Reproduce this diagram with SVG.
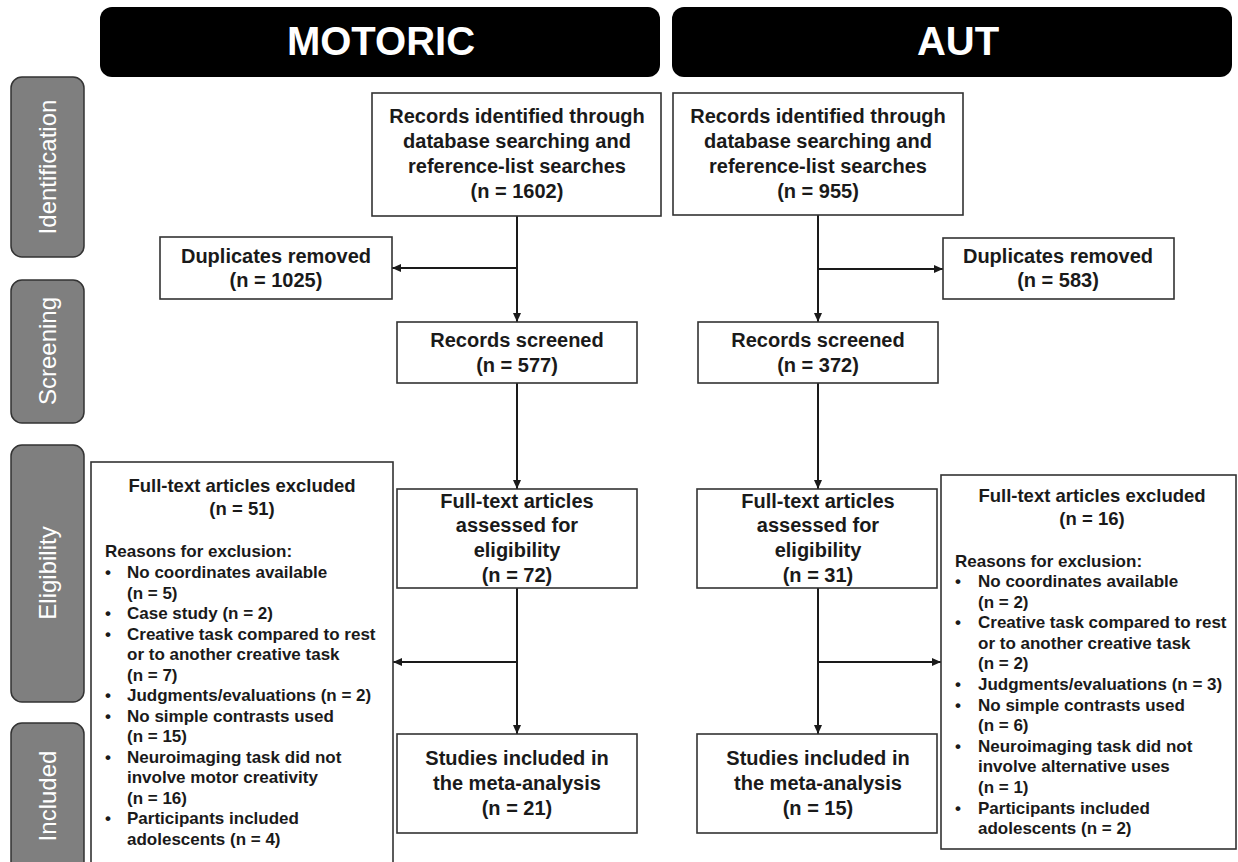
<svg xmlns="http://www.w3.org/2000/svg" width="1238" height="862" viewBox="0 0 1238 862">
<style>
  text { font-family: "Liberation Sans", Arial, Helvetica, sans-serif; }
  .hdr { fill: #000; }
  .hdrt { fill: #fff; font-size: 40px; font-weight: bold; text-anchor: middle; }
  .tab { fill: #7f7f7f; stroke: #333; stroke-width: 1.5; }
  .tabt { fill: #fff; font-size: 24px; text-anchor: middle; }
  .box { fill: #fff; stroke: #333; stroke-width: 1.6; }
  .bt { fill: #1a1a1a; font-size: 20px; font-weight: bold; text-anchor: middle; }
  .et { fill: #1a1a1a; font-size: 18.5px; font-weight: bold; text-anchor: middle; }
  .lt { fill: #1a1a1a; font-size: 17px; font-weight: bold; }
  .conn { stroke: #1a1a1a; stroke-width: 2; fill: none; marker-end: url(#arr); }
</style>
<defs>
  <marker id="arr" markerWidth="9" markerHeight="8" refX="9" refY="4" orient="auto" markerUnits="userSpaceOnUse">
    <path d="M0,0 L9,4 L0,8 Z" fill="#1a1a1a"/>
  </marker>
</defs>
<rect width="1238" height="862" fill="#fff"/>

<g id="header-motoric">
  <rect class="hdr" x="100" y="7" width="560" height="70" rx="12"/>
  <text class="hdrt" x="381" y="55">MOTORIC</text>
</g>
<g id="header-aut">
  <rect class="hdr" x="672" y="7" width="560" height="70" rx="12"/>
  <text class="hdrt" x="958" y="55">AUT</text>
</g>

<g id="tab-identification">
  <rect class="tab" x="11" y="77" width="73" height="180" rx="11"/>
  <text class="tabt" transform="translate(56,167) rotate(-90)">Identification</text>
</g>
<g id="tab-screening">
  <rect class="tab" x="11" y="280" width="73" height="143" rx="11"/>
  <text class="tabt" transform="translate(56,351) rotate(-90)">Screening</text>
</g>
<g id="tab-eligibility">
  <rect class="tab" x="11" y="445" width="73" height="257" rx="11"/>
  <text class="tabt" transform="translate(56,573) rotate(-90)">Eligibility</text>
</g>
<g id="tab-included">
  <rect class="tab" x="11" y="723" width="73" height="150" rx="11"/>
  <text class="tabt" transform="translate(56,796) rotate(-90)">Included</text>
</g>

<g id="connectors">
  <line class="conn" x1="517" y1="216" x2="517" y2="322"/>
  <line class="conn" x1="517" y1="268" x2="392" y2="268"/>
  <line class="conn" x1="517" y1="383" x2="517" y2="489"/>
  <line class="conn" x1="517" y1="662" x2="393" y2="662"/>
  <line class="conn" x1="517" y1="588" x2="517" y2="734"/>
  <line class="conn" x1="818" y1="215" x2="818" y2="322"/>
  <line class="conn" x1="818" y1="269" x2="943" y2="269"/>
  <line class="conn" x1="818" y1="383" x2="818" y2="489"/>
  <line class="conn" x1="818" y1="662" x2="941" y2="662"/>
  <line class="conn" x1="818" y1="588" x2="818" y2="734"/>
</g>

<g id="m-identified">
  <rect class="box" x="372" y="93" width="289" height="123"/>
  <text class="bt" x="517" y="123">Records identified through</text>
  <text class="bt" x="517" y="148">database searching and</text>
  <text class="bt" x="517" y="173">reference-list searches</text>
  <text class="bt" x="517" y="198">(n = 1602)</text>
</g>
<g id="m-duplicates">
  <rect class="box" x="160" y="237" width="232" height="62"/>
  <text class="bt" x="276" y="263">Duplicates removed</text>
  <text class="bt" x="276" y="287">(n = 1025)</text>
</g>
<g id="m-screened">
  <rect class="box" x="397" y="322" width="240" height="61"/>
  <text class="bt" x="517" y="347">Records screened</text>
  <text class="bt" x="517" y="372">(n = 577)</text>
</g>
<g id="m-assessed">
  <rect class="box" x="397" y="489" width="240" height="99"/>
  <text class="bt" x="517" y="508">Full-text articles</text>
  <text class="bt" x="517" y="532">assessed for</text>
  <text class="bt" x="517" y="557">eligibility</text>
  <text class="bt" x="517" y="582">(n = 72)</text>
</g>
<g id="m-included">
  <rect class="box" x="397" y="734" width="240" height="99"/>
  <text class="bt" x="517" y="765">Studies included in</text>
  <text class="bt" x="517" y="790">the meta-analysis</text>
  <text class="bt" x="517" y="815">(n = 21)</text>
</g>
<g id="m-excluded">
  <rect class="box" x="91" y="462" width="302" height="420"/>
  <text class="et" x="242" y="492">Full-text articles excluded</text>
  <text class="et" x="242" y="515">(n = 51)</text>
  <text class="lt" x="105" y="557">Reasons for exclusion:</text>
  <text class="lt" x="105" y="578">•</text><text class="lt" x="127" y="578">No coordinates available</text>
  <text class="lt" x="127" y="598.5">(n = 5)</text>
  <text class="lt" x="105" y="619">•</text><text class="lt" x="127" y="619">Case study (n = 2)</text>
  <text class="lt" x="105" y="639.5">•</text><text class="lt" x="127" y="639.5">Creative task compared to rest</text>
  <text class="lt" x="127" y="660">or to another creative task</text>
  <text class="lt" x="127" y="680.5">(n = 7)</text>
  <text class="lt" x="105" y="701">•</text><text class="lt" x="127" y="701">Judgments/evaluations (n = 2)</text>
  <text class="lt" x="105" y="721.5">•</text><text class="lt" x="127" y="721.5">No simple contrasts used</text>
  <text class="lt" x="127" y="742">(n = 15)</text>
  <text class="lt" x="105" y="762.5">•</text><text class="lt" x="127" y="762.5">Neuroimaging task did not</text>
  <text class="lt" x="127" y="783">involve motor creativity</text>
  <text class="lt" x="127" y="803.5">(n = 16)</text>
  <text class="lt" x="105" y="824">•</text><text class="lt" x="127" y="824">Participants included</text>
  <text class="lt" x="127" y="844.5">adolescents (n = 4)</text>
</g>

<g id="a-identified">
  <rect class="box" x="673" y="93" width="290" height="122"/>
  <text class="bt" x="818" y="123">Records identified through</text>
  <text class="bt" x="818" y="148">database searching and</text>
  <text class="bt" x="818" y="173">reference-list searches</text>
  <text class="bt" x="818" y="198">(n = 955)</text>
</g>
<g id="a-duplicates">
  <rect class="box" x="943" y="238" width="231" height="61"/>
  <text class="bt" x="1058" y="263">Duplicates removed</text>
  <text class="bt" x="1058" y="287">(n = 583)</text>
</g>
<g id="a-screened">
  <rect class="box" x="698" y="322" width="240" height="61"/>
  <text class="bt" x="818" y="347">Records screened</text>
  <text class="bt" x="818" y="372">(n = 372)</text>
</g>
<g id="a-assessed">
  <rect class="box" x="697" y="489" width="240" height="99"/>
  <text class="bt" x="818" y="508">Full-text articles</text>
  <text class="bt" x="818" y="532">assessed for</text>
  <text class="bt" x="818" y="557">eligibility</text>
  <text class="bt" x="818" y="582">(n = 31)</text>
</g>
<g id="a-included">
  <rect class="box" x="697" y="734" width="240" height="99"/>
  <text class="bt" x="818" y="765">Studies included in</text>
  <text class="bt" x="818" y="790">the meta-analysis</text>
  <text class="bt" x="818" y="815">(n = 15)</text>
</g>
<g id="a-excluded">
  <rect class="box" x="941" y="475" width="295" height="374"/>
  <text class="et" x="1092" y="502">Full-text articles excluded</text>
  <text class="et" x="1092" y="525">(n = 16)</text>
  <text class="lt" x="955" y="567">Reasons for exclusion:</text>
  <text class="lt" x="955" y="587">•</text><text class="lt" x="978" y="587">No coordinates available</text>
  <text class="lt" x="978" y="607.6">(n = 2)</text>
  <text class="lt" x="955" y="628.2">•</text><text class="lt" x="978" y="628.2">Creative task compared to rest</text>
  <text class="lt" x="978" y="648.8">or to another creative task</text>
  <text class="lt" x="978" y="669.4">(n = 2)</text>
  <text class="lt" x="955" y="690">•</text><text class="lt" x="978" y="690">Judgments/evaluations (n = 3)</text>
  <text class="lt" x="955" y="710.6">•</text><text class="lt" x="978" y="710.6">No simple contrasts used</text>
  <text class="lt" x="978" y="731.2">(n = 6)</text>
  <text class="lt" x="955" y="751.8">•</text><text class="lt" x="978" y="751.8">Neuroimaging task did not</text>
  <text class="lt" x="978" y="772.4">involve alternative uses</text>
  <text class="lt" x="978" y="793">(n = 1)</text>
  <text class="lt" x="955" y="813.6">•</text><text class="lt" x="978" y="813.6">Participants included</text>
  <text class="lt" x="978" y="834.2">adolescents (n = 2)</text>
</g>
</svg>
